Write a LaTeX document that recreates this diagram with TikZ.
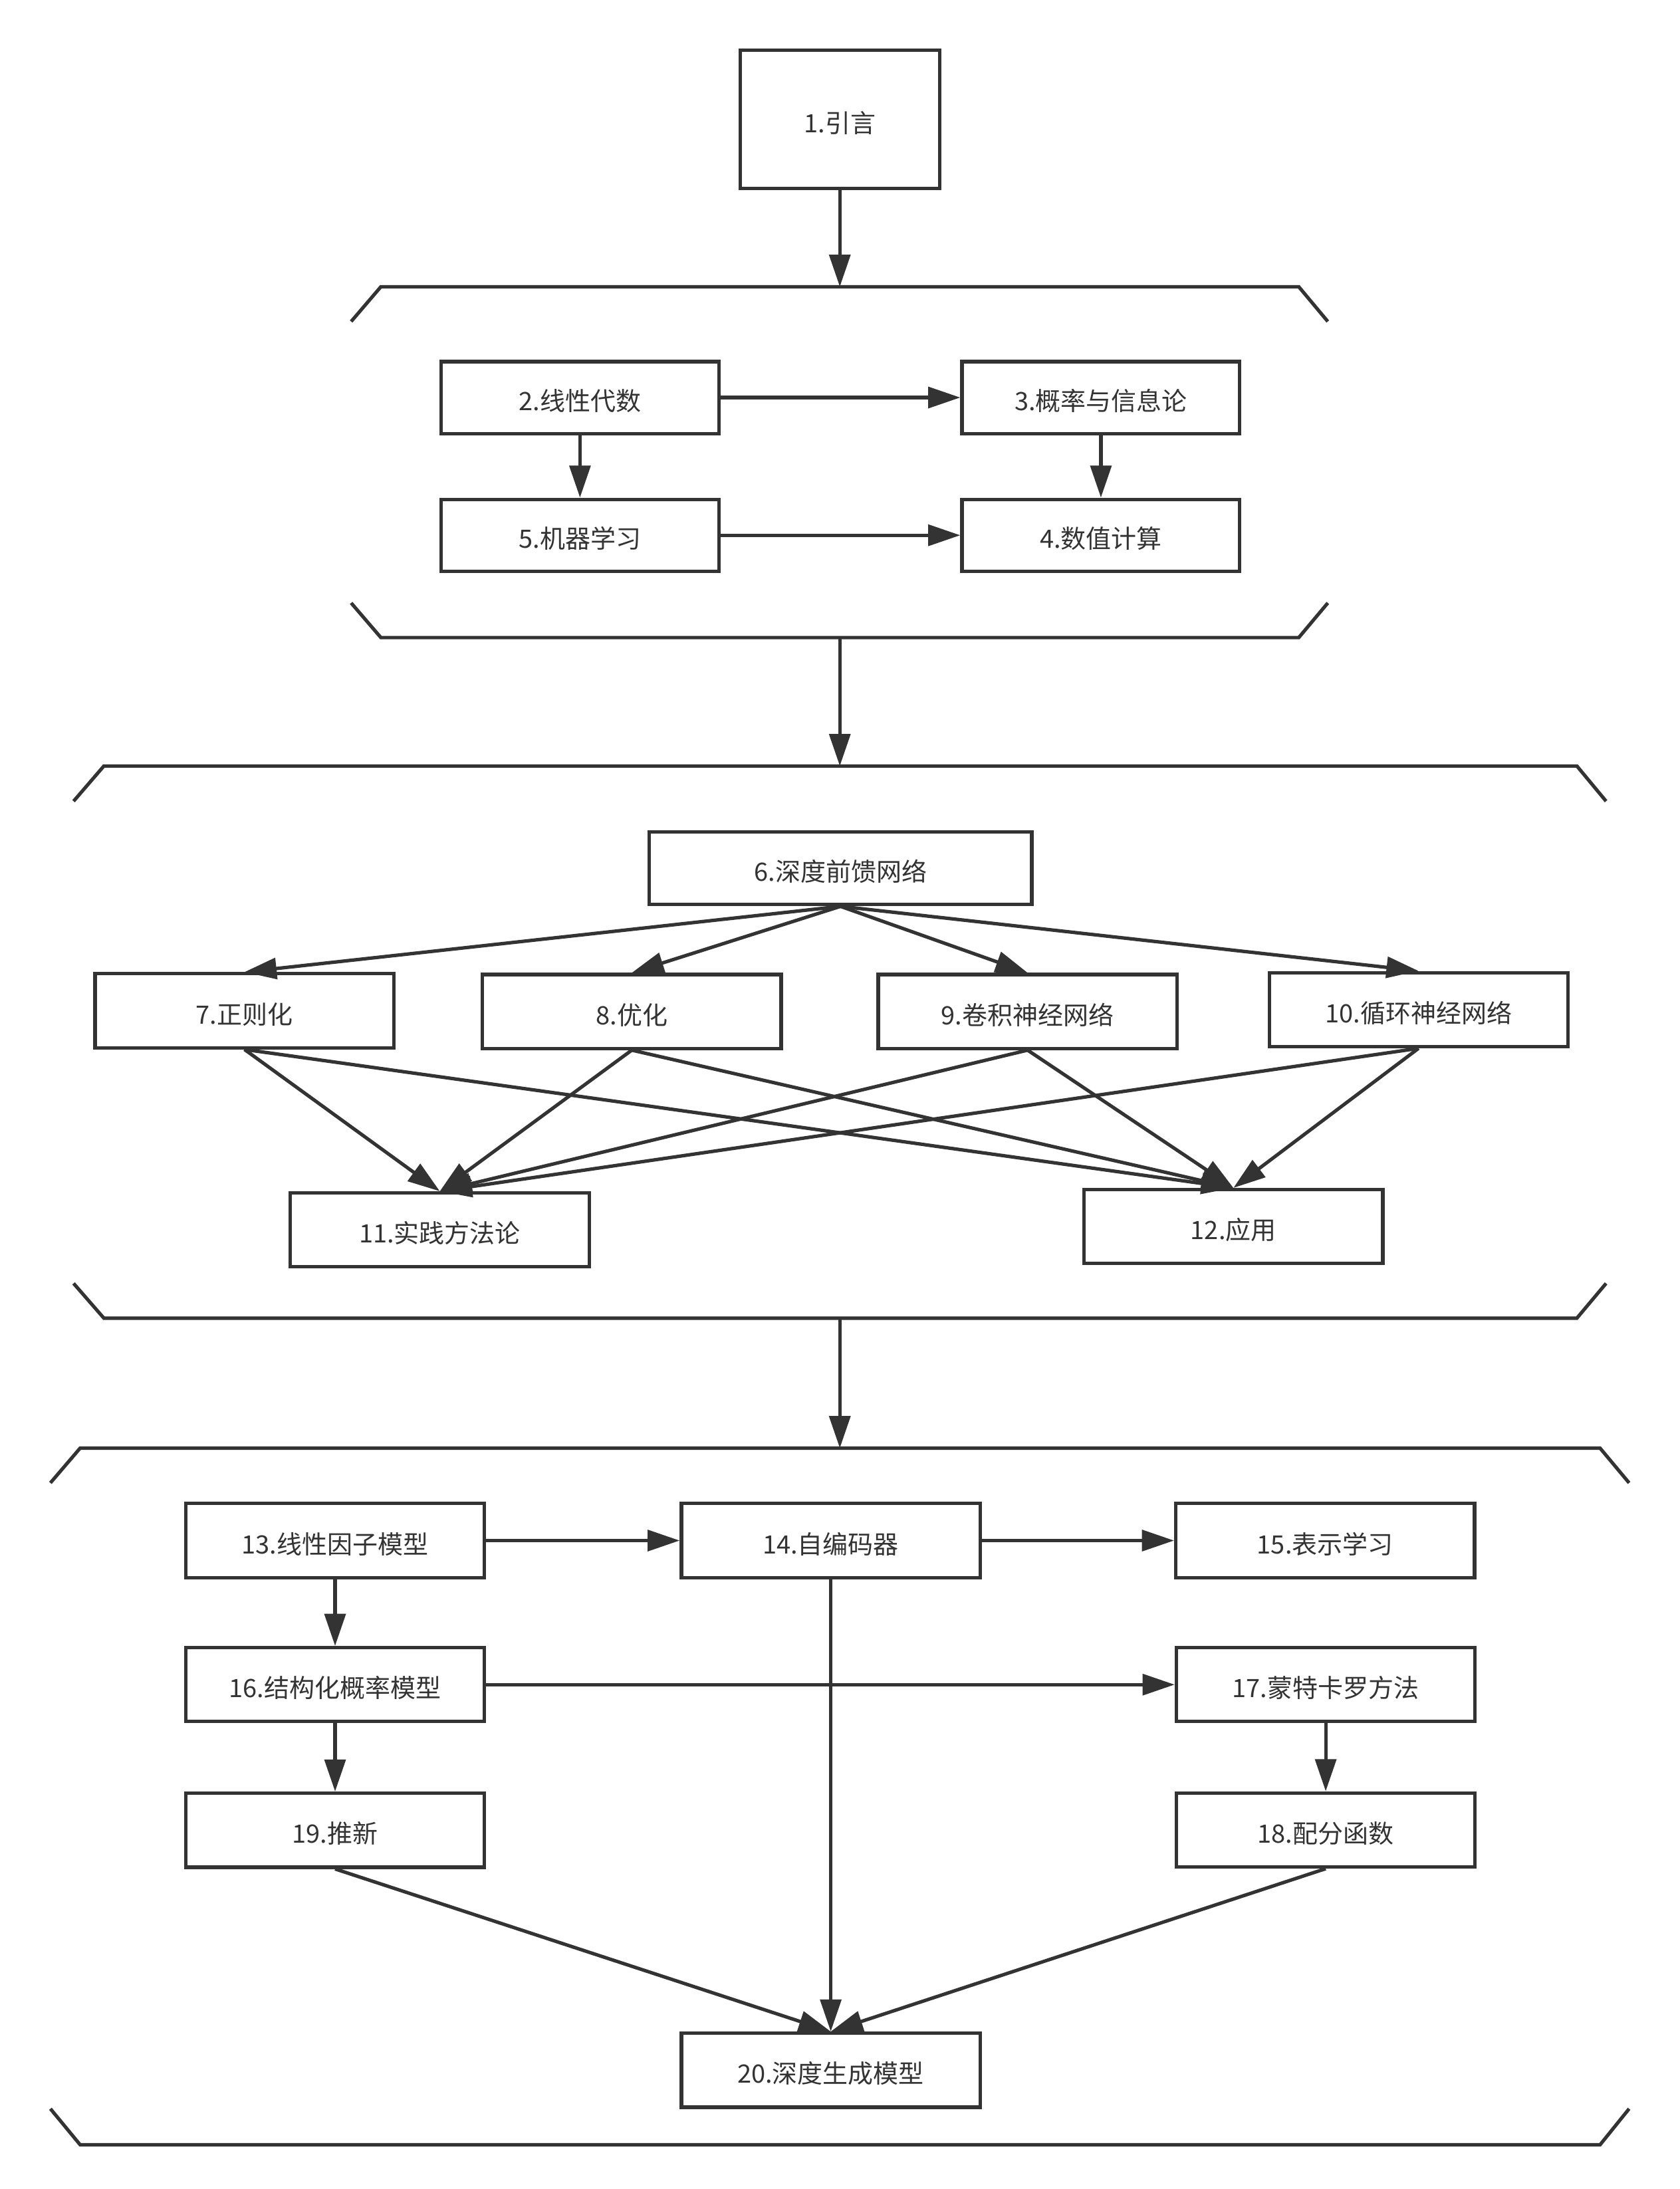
\documentclass[tikz,border=0pt]{standalone}
\usepackage{fontspec}
\setmainfont{Noto Sans CJK SC}
\usetikzlibrary{arrows.meta}
\definecolor{ink}{HTML}{333333}
\begin{document}
\begin{tikzpicture}[x=0.02cm,y=-0.02cm,
  box/.style={draw=ink, line width=1.4pt, fill=white, inner sep=0pt,
    minimum width=4.28cm, minimum height=1.06cm, text=ink,
    text height=11.9pt, text depth=1.3pt,
    font=\fontsize{10.3pt}{12pt}\selectfont},
  conn/.style={draw=ink, line width=1.4pt, -{Triangle[length=4.6mm,width=3mm]}},
  brk/.style={draw=ink, line width=1.4pt, line join=miter}]
\fill[white] (0,0) rectangle (1203,1568);
\useasboundingbox (0,0) rectangle (1203,1568);

% brackets
\draw[brk] (251.5,230.3) -- (272.8,205.4) -- (930.2,205.4) -- (951,230.3);
\draw[brk] (251.5,431.9) -- (272.8,456.7) -- (930.2,456.7) -- (951,431.9);
\draw[brk] (52.7,573.9) -- (74.4,548.7) -- (1129.4,548.7) -- (1150.3,573.9);
\draw[brk] (52.7,919.3) -- (74.4,944.2) -- (1129.4,944.2) -- (1150.3,919.3);
\draw[brk] (36.1,1062.2) -- (57.4,1037.3) -- (1146,1037.3) -- (1166.8,1062.2);
\draw[brk] (36.1,1510.5) -- (57.4,1536.3) -- (1146,1536.3) -- (1166.8,1510.5);
\coordinate (b1t) at (601.5,205.4);
\coordinate (b1b) at (601.5,456.7);
\coordinate (b2t) at (601.5,548.7);
\coordinate (b2b) at (601.5,944.2);
\coordinate (b3t) at (601.5,1037.3);

% nodes
\node[box, minimum width=2.86cm, minimum height=1.98cm] (n1) at (601.5,85.5) {1.引言};
\node[box, minimum width=3.98cm, minimum height=1.03cm] (n2) at (415.4,284.75) {2.线性代数};
\node[box, minimum width=3.98cm, minimum height=1.03cm] (n3) at (788.5,284.75) {3.概率与信息论};
\node[box, minimum width=3.98cm, minimum height=1.03cm] (n5) at (415.4,383.4) {5.机器学习};
\node[box, minimum width=3.98cm, minimum height=1.03cm] (n4) at (788.5,383.4) {4.数值计算};

\node[box, minimum width=5.48cm, minimum height=1.04cm] (n6) at (602,622) {6.深度前馈网络};
\node[box] (n7) at (175.1,724) {7.正则化};
\node[box] (n8) at (452.5,724.5) {8.优化};
\node[box] (n9) at (736,724.5) {9.卷积神经网络};
\node[box] (n10) at (1016,723.2) {10.循环神经网络};
\node[box] (n11) at (315,881) {11.实践方法论};
\node[box] (n12) at (883.4,878.6) {12.应用};

\node[box] (n13) at (240,1103.5) {13.线性因子模型};
\node[box] (n14) at (595,1103.5) {14.自编码器};
\node[box] (n15) at (949.1,1103.5) {15.表示学习};
\node[box] (n16) at (240,1206.7) {16.结构化概率模型};
\node[box] (n17) at (949.5,1206.7) {17.蒙特卡罗方法};
\node[box] (n19) at (240,1311) {19.推新};
\node[box] (n18) at (949.5,1310.8) {18.配分函数};
\node[box] (n20) at (595,1482.9) {20.深度生成模型};

% connectors
\draw[conn] (n1.south) -- (b1t);
\draw[conn] (b1b) -- (b2t);
\draw[conn] (b2b) -- (b3t);

\draw[conn] (n2.east) -- (n3.west);
\draw[conn] (n2.south) -- (n5.north);
\draw[conn] (n3.south) -- (n4.north);
\draw[conn] (n5.east) -- (n4.west);

\foreach \t in {n7,n8,n9,n10} \draw[conn] (n6.south) -- (\t.north);
\foreach \s in {n7,n8,n9,n10} {
  \draw[conn] (\s.south) -- (n11.north);
  \draw[conn] (\s.south) -- (n12.north);
}

\draw[conn] (n13.east) -- (n14.west);
\draw[conn] (n14.east) -- (n15.west);
\draw[conn] (n13.south) -- (n16.north);
\draw[conn] (n16.east) -- (n17.west);
\draw[conn] (n16.south) -- (n19.north);
\draw[conn] (n17.south) -- (n18.north);
\draw[conn] (n14.south) -- (n20.north);
\draw[conn] (n19.south) -- (n20.north);
\draw[conn] (n18.south) -- (n20.north);
\end{tikzpicture}
\end{document}
